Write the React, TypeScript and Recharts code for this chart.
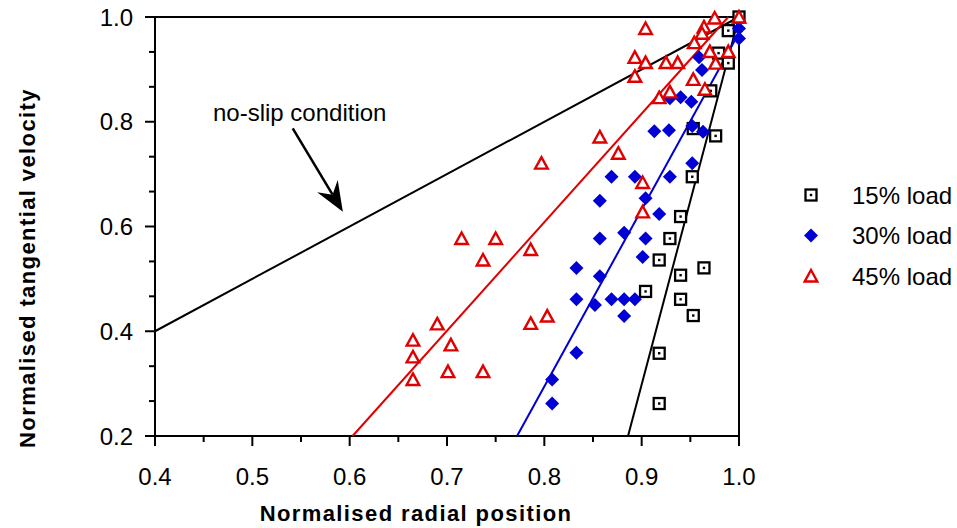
import { ScatterChart, Scatter, XAxis, YAxis, ReferenceLine, Legend } from "recharts";

const FONT = "Arial, 'Liberation Sans', Helvetica, sans-serif";
const BLUE = "#0000d4";
const RED = "#e00000";
const INK = "#000";

const X_MAJOR = [0.4, 0.5, 0.6, 0.7, 0.8, 0.9, 1.0];
const X_MINOR = [0.45, 0.55, 0.65, 0.75, 0.85, 0.95];
const Y_MAJOR = [0.2, 0.4, 0.6, 0.8, 1.0];
const Y_MINOR = [0.2667, 0.3333, 0.4667, 0.5333, 0.6667, 0.7333, 0.8667, 0.9333];

const X_TITLE = "Normalised radial position";
const Y_TITLE = "Normalised tangential velocity";
const ANNOTATION = "no-slip condition";

// measured points [radial, tangential]
const LOAD15 = [
  [1.0, 1.0], [0.989, 0.974], [0.979, 0.931], [0.989, 0.912], [0.971, 0.859],
  [0.953, 0.787], [0.976, 0.773], [0.952, 0.695], [0.94, 0.619], [0.929, 0.577],
  [0.918, 0.536], [0.964, 0.521], [0.94, 0.507], [0.904, 0.476], [0.94, 0.461],
  [0.953, 0.43], [0.918, 0.358], [0.918, 0.262],
];
const LOAD30 = [
  [1.0, 0.978], [1.0, 0.959], [0.959, 0.923], [0.962, 0.899], [0.929, 0.845],
  [0.94, 0.847], [0.951, 0.838], [0.913, 0.782], [0.928, 0.784], [0.952, 0.792],
  [0.963, 0.781], [0.952, 0.721], [0.869, 0.695], [0.893, 0.695], [0.929, 0.695],
  [0.857, 0.649], [0.904, 0.654], [0.918, 0.624], [0.857, 0.577], [0.882, 0.588],
  [0.904, 0.577], [0.901, 0.542], [0.833, 0.521], [0.857, 0.505], [0.833, 0.461],
  [0.852, 0.45], [0.869, 0.461], [0.882, 0.461], [0.893, 0.461], [0.882, 0.429],
  [0.833, 0.359], [0.808, 0.308], [0.808, 0.262],
];
const LOAD45 = [
  [1.0, 1.0], [0.975, 0.998], [0.964, 0.981], [0.904, 0.978], [0.962, 0.969],
  [0.954, 0.951], [0.97, 0.934], [0.989, 0.934], [0.893, 0.923], [0.904, 0.913],
  [0.925, 0.913], [0.937, 0.913], [0.976, 0.912], [0.893, 0.887], [0.953, 0.881],
  [0.965, 0.862], [0.929, 0.857], [0.918, 0.846], [0.857, 0.771], [0.876, 0.74],
  [0.797, 0.721], [0.901, 0.684], [0.901, 0.628], [0.715, 0.577], [0.75, 0.577],
  [0.786, 0.556], [0.737, 0.536], [0.803, 0.429], [0.786, 0.415], [0.69, 0.414],
  [0.665, 0.383], [0.704, 0.374], [0.665, 0.351], [0.701, 0.323], [0.737, 0.323],
  [0.665, 0.308],
];

// straight lines: no-slip and the three fits
const NO_SLIP = [[0.4, 0.4], [1.0, 1.0]];
const FIT15 = [[0.886, 0.2], [1.0, 1.0]];
const FIT30 = [[0.772, 0.2], [1.0, 0.97]];
const FIT45 = [[0.603, 0.2], [0.989, 1.0]];
const ARROW = [[0.5415, 0.7875], [0.593, 0.628]];

const pts = (a: number[][]) => a.map(([x, y]) => ({ x, y }));

const LEGEND = [
  { name: "15% load", kind: "square" },
  { name: "30% load", kind: "diamond" },
  { name: "45% load", kind: "triangle" },
];

const near = (v: number, list: number[]) => list.some((m) => Math.abs(m - v) < 1e-6);

function Marker({ kind, cx, cy }: any) {
  if (kind === "square")
    return (
      <g>
        <rect x={cx - 5.5} y={cy - 5.5} width={11} height={11} fill="#fff" stroke={INK} strokeWidth={2.3} />
        <rect x={cx - 1.2} y={cy - 1.2} width={2.4} height={2.4} fill={INK} />
      </g>
    );
  if (kind === "diamond")
    return <polygon points={`${cx},${cy - 7} ${cx + 7},${cy} ${cx},${cy + 7} ${cx - 7},${cy}`} fill={BLUE} />;
  return (
    <path
      d={`M${cx},${cy - 6} L${cx + 6.3},${cy + 5.5} L${cx - 6.3},${cy + 5.5} Z`}
      fill="#fff"
      stroke={RED}
      strokeWidth={2.4}
    />
  );
}

function XTick({ x, y, payload }: any) {
  const major = near(payload.value, X_MAJOR);
  return (
    <g>
      <line x1={x} x2={x} y1={y} y2={y + (major ? 10 : 6)} stroke={INK} strokeWidth={2} />
      {major && (
        <text x={x} y={y + 49} textAnchor="middle" fontSize={24} fontFamily={FONT} fill={INK}>
          {payload.value.toFixed(1)}
        </text>
      )}
    </g>
  );
}

function YTick({ x, y, payload }: any) {
  const major = near(payload.value, Y_MAJOR);
  return (
    <g>
      <line x1={x - (major ? 10 : 6)} x2={x} y1={y} y2={y} stroke={INK} strokeWidth={2} />
      {major && (
        <text x={x - 22} y={y + 8.5} textAnchor="end" fontSize={24} fontFamily={FONT} fill={INK}>
          {payload.value.toFixed(1)}
        </text>
      )}
    </g>
  );
}

function ArrowShape({ x1, y1, x2, y2 }: any) {
  const len = Math.hypot(x2 - x1, y2 - y1);
  const ux = (x2 - x1) / len;
  const uy = (y2 - y1) / len;
  const nx = -uy;
  const ny = ux;
  const bx = x2 - ux * 30;
  const by = y2 - uy * 30;
  const notchX = x2 - ux * 20;
  const notchY = y2 - uy * 20;
  return (
    <g>
      <line x1={x1} y1={y1} x2={notchX} y2={notchY} stroke={INK} strokeWidth={2.5} />
      <path
        d={`M${x2},${y2} L${bx + nx * 12},${by + ny * 12} L${notchX},${notchY} L${bx - nx * 12},${by - ny * 12} Z`}
        fill={INK}
      />
      <text x={x1 + 7} y={y1 - 7} textAnchor="middle" fontSize={24} fontFamily={FONT} fill={INK}>
        {ANNOTATION}
      </text>
    </g>
  );
}

function LegendBox() {
  return (
    <svg width={167} height={130} style={{ display: "block" }}>
      {LEGEND.map((it, i) => (
        <g key={it.name}>
          <Marker kind={it.kind} cx={21} cy={25 + i * 40.5} />
          <text x={62} y={25 + i * 40.5 + 8.5} fontSize={24} fontFamily={FONT} fill={INK}>
            {it.name}
          </text>
        </g>
      ))}
    </svg>
  );
}

const noShape = () => <g />;

export default function App() {
  return (
    <div style={{ position: "absolute", left: 0, top: 0, fontFamily: FONT, background: "#fff" }}>
      <ScatterChart width={957} height={528} margin={{ top: 17, right: 218, bottom: 32, left: 0 }}>
        <XAxis
          type="number"
          dataKey="x"
          domain={[0.4, 1.0]}
          ticks={[...X_MAJOR, ...X_MINOR].sort((a, b) => a - b)}
          interval={0}
          tick={<XTick />}
          tickLine={false}
          tickSize={0}
          tickMargin={0}
          height={60}
          axisLine={{ stroke: INK, strokeWidth: 2 }}
          label={{
            content: () => (
              <text x={416} y={521} textAnchor="middle" fontSize={22} fontWeight="bold" letterSpacing={1.4} fontFamily={FONT} fill={INK}>
                {X_TITLE}
              </text>
            ),
          }}
        />
        <YAxis
          type="number"
          dataKey="y"
          domain={[0.2, 1.0]}
          ticks={[...Y_MAJOR, ...Y_MINOR].sort((a, b) => a - b)}
          interval={0}
          tick={<YTick />}
          tickLine={false}
          tickSize={0}
          tickMargin={0}
          width={155}
          axisLine={{ stroke: INK, strokeWidth: 2 }}
          label={{
            content: () => (
              <text
                transform="rotate(-90)"
                x={-268}
                y={35}
                textAnchor="middle"
                fontSize={22}
                fontWeight="bold"
                letterSpacing={1.4}
                fontFamily={FONT}
                fill={INK}
              >
                {Y_TITLE}
              </text>
            ),
          }}
        />
        <ReferenceLine y={1.0} stroke={INK} strokeWidth={2} />
        <ReferenceLine x={1.0} stroke={INK} strokeWidth={2} />
        <ReferenceLine segment={pts(ARROW)} shape={<ArrowShape />} />
        <Scatter data={pts(NO_SLIP)} line={{ stroke: INK, strokeWidth: 2 }} shape={noShape} legendType="none" isAnimationActive={false} />
        <Scatter data={pts(FIT15)} line={{ stroke: INK, strokeWidth: 2 }} shape={noShape} legendType="none" isAnimationActive={false} />
        <Scatter data={pts(FIT30)} line={{ stroke: BLUE, strokeWidth: 2 }} shape={noShape} legendType="none" isAnimationActive={false} />
        <Scatter data={pts(FIT45)} line={{ stroke: RED, strokeWidth: 2 }} shape={noShape} legendType="none" isAnimationActive={false} />
        <Scatter name="15% load" data={pts(LOAD15)} shape={(p: any) => <Marker kind="square" cx={p.cx} cy={p.cy} />} isAnimationActive={false} />
        <Scatter name="30% load" data={pts(LOAD30)} shape={(p: any) => <Marker kind="diamond" cx={p.cx} cy={p.cy} />} isAnimationActive={false} />
        <Scatter name="45% load" data={pts(LOAD45)} shape={(p: any) => <Marker kind="triangle" cx={p.cx} cy={p.cy} />} isAnimationActive={false} />
        <Legend
          layout="vertical"
          align="center"
          verticalAlign="middle"
          wrapperStyle={{ left: 790, top: 170, width: 167, height: 130 }}
          content={() => <LegendBox />}
        />
      </ScatterChart>
    </div>
  );
}
